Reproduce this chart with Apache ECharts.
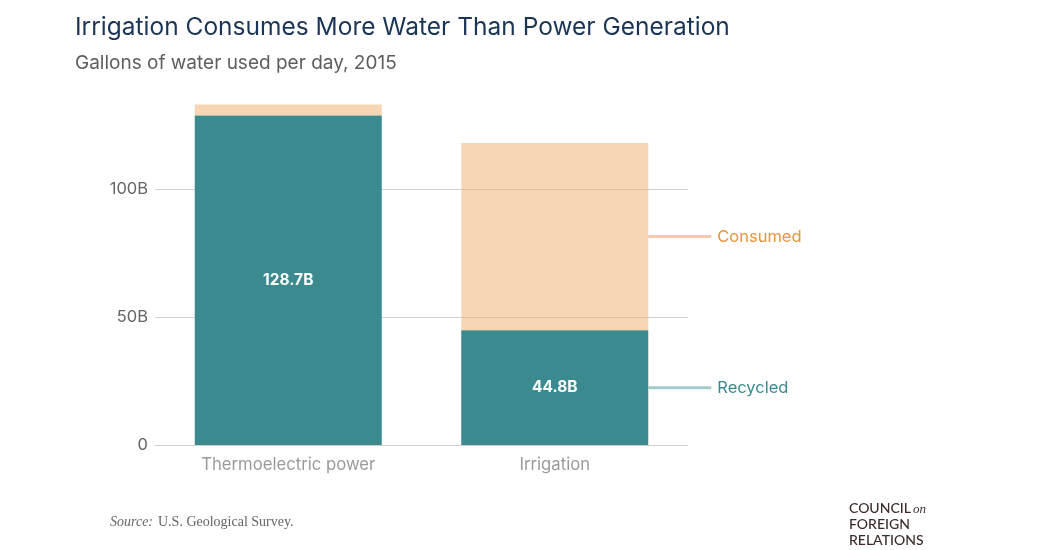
<!DOCTYPE html>
<html>
<head>
<meta charset="utf-8">
<script src="https://cdn.jsdelivr.net/npm/echarts@6/dist/echarts.min.js"></script>
<style>html,body{margin:0;padding:0;background:#fff}#c{width:1050px;height:550px}</style>
</head>
<body>
<div id="c"></div>
<script>
const categories = ['Thermoelectric power', 'Irrigation'];
const recycled = [128.7, 44.8];
const consumed = [4.3, 73.2];
const yTicks = [0, 50, 100];

const chart = echarts.init(document.getElementById('c'), null, {renderer: 'canvas'});

function sideLabel(name, color, lineColor) {
  return {
    show: true,
    position: 'right',
    distance: 0,
    formatter: '{l|}{t|' + name + '}',
    rich: {
      l: {width: 63, height: 3, backgroundColor: lineColor},
      t: {color: color, fontSize: 16.5, fontFamily: 'Inter', padding: [0, 0, 0, 6]}
    }
  };
}

const barLabel = {show: true, position: 'inside', color: '#fff', fontWeight: 'bold', fontSize: 15.5,
                  fontFamily: 'Inter', formatter: p => p.value + 'B'};

chart.setOption({
  animation: false,
  title: [
    {text: 'Irrigation Consumes More Water Than Power Generation', left: 70, top: 10,
     textStyle: {fontFamily: 'Inter', fontSize: 24.5, fontWeight: 'normal', color: '#1b3556'}},
    {text: 'Gallons of water used per day, 2015', left: 70, top: 49,
     textStyle: {fontFamily: 'Inter', fontSize: 19, fontWeight: 'normal', color: '#5e5e5e'}}
  ],
  grid: {left: 155, right: 362, top: 61, bottom: 105},
  xAxis: {
    type: 'category', data: categories,
    axisLine: {lineStyle: {color: '#cfcfcf'}},
    axisTick: {show: false},
    axisLabel: {color: '#9a9a9a', fontSize: 16.7, fontFamily: 'Inter', margin: 11}
  },
  yAxis: {
    type: 'value', min: 0, max: 150, interval: 50,
    axisLine: {show: false}, axisTick: {show: false},
    splitLine: {show: true, showMaxLine: false, lineStyle: {color: '#d2d2d2', width: 1}},
    axisLabel: {
      showMaxLabel: false, color: '#666', fontSize: 16.5, fontFamily: 'Inter', margin: 7,
      formatter: v => yTicks.includes(v) ? (v === 0 ? '0' : v + 'B') : ''
    }
  },
  series: [
    {
      name: 'Recycled', type: 'bar', stack: 's', barWidth: 187,
      itemStyle: {color: '#3b8a8f'},
      label: barLabel,
      data: recycled,
      z: 2
    },
    {
      name: 'Recycled-guide', type: 'bar', stack: 'g', barWidth: 187, silent: true,
      itemStyle: {color: 'rgba(0,0,0,0)'},
      data: recycled.map((v, i) => i === 1 ? {value: v, label: sideLabel('Recycled', '#3b8a8f', '#a3cbcd')} : {value: v, label: {show: false}}),
      z: 3
    },
    {
      name: 'Consumed', type: 'bar', stack: 's', barWidth: 187,
      itemStyle: {color: 'rgba(239,176,104,0.5)'},
      data: consumed.map((v, i) => i === 1 ? {value: v, label: sideLabel('Consumed', '#e8953a', '#f5cc9c')} : v),
      z: 4
    }
  ],
  barGap: '-100%',
  graphic: [
    {type: 'text', left: 110, top: 515, style: {text: 'Source:', font: 'italic 14px "Liberation Serif", serif', fill: '#666'}},
    {type: 'text', left: 158, top: 515, style: {text: 'U.S. Geological Survey.', font: '14px "Liberation Serif", serif', fill: '#666'}},
    {type: 'text', left: 849, top: 501, style: {text: 'COUNCIL', font: '500 14px "Lato", sans-serif', fill: '#3d2b2b'}},
    {type: 'text', left: 913, top: 503, style: {text: 'on', font: 'italic 13px "Liberation Serif", serif', fill: '#3d2b2b'}},
    {type: 'text', left: 849, top: 517, style: {text: 'FOREIGN', font: '500 14px "Lato", sans-serif', fill: '#3d2b2b'}},
    {type: 'text', left: 849, top: 533, style: {text: 'RELATIONS', font: '500 14px "Lato", sans-serif', fill: '#3d2b2b'}}
  ]
});
</script>
</body>
</html>
